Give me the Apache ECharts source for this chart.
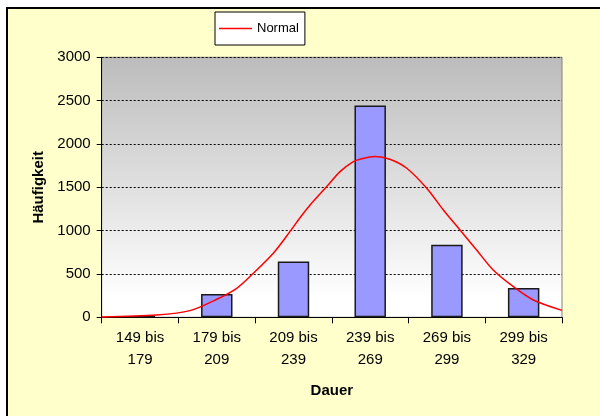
<!DOCTYPE html>
<html><head><meta charset="utf-8">
<script src="https://cdn.jsdelivr.net/npm/echarts@6/dist/echarts.min.js"></script>
<style>
html,body{margin:0;padding:0;background:#fff;}
#wrap{position:relative;width:600px;height:416px;overflow:hidden;background:#fff;}
#frame{position:absolute;left:6px;top:7px;width:600px;height:420px;background:#FFFFCC;border-left:2px solid #000;border-top:2px solid #000;}
#chart{position:absolute;left:0;top:0;width:600px;height:416px;}
</style></head>
<body><div id="wrap"><div id="frame"></div><div id="chart"></div></div>
<script>
const categories = ['149 bis\n179','179 bis\n209','209 bis\n239','239 bis\n269','269 bis\n299','299 bis\n329'];
const counts = [15, 270, 643, 2445, 838, 338];
const yTicks = [0, 500, 1000, 1500, 2000, 2500, 3000];
// normal curve points: [Dauer, Häufigkeit]
const normalX = [149, 170.5, 183.5, 194.0, 201.8, 208.3, 216.1, 222.6, 226.4, 230.5, 237.0, 242.2, 247.4, 250.0, 255.9, 261.7, 268.3, 276.1, 282.6, 289.1, 295.6, 302.1, 310.0, 317.8, 329];
const normalY = [3, 27, 77, 208, 335, 508, 739, 988, 1143, 1296, 1508, 1681, 1796, 1824, 1855, 1824, 1720, 1489, 1238, 1008, 777, 546, 353, 200, 80];

const font = 'Liberation Sans, Arial, sans-serif';
const chart = echarts.init(document.getElementById('chart'), null, {renderer:'canvas'});
chart.setOption({
  backgroundColor: 'transparent',
  animation: false,
  legend: {
    data: [{name:'Normal', icon:'rect'}],
    left: 215, top: 12,
    backgroundColor: '#fff', borderColor: '#000', borderWidth: 1,
    padding: [10, 6, 10, 4],
    itemWidth: 33, itemHeight: 1.5, itemGap: 4,
    textStyle: {fontFamily: font, fontSize: 13, color: '#000'}
  },
  grid: {
    left: 101.7, right: 38, top: 57.3, bottom: 98.7,
    show: true, borderColor: '#808080', borderWidth: 1,
    backgroundColor: new echarts.graphic.LinearGradient(0,0,0,1,[
      {offset:0, color:'#bcbcbc'},{offset:0.93, color:'#ffffff'},{offset:1, color:'#ffffff'}])
  },
  xAxis: [{
    type: 'category', data: categories,
    name: 'Dauer', nameLocation: 'middle', nameGap: 66,
    nameTextStyle: {fontFamily: font, fontSize: 15, fontWeight: 'bold', color: '#000'},
    axisLine: {lineStyle: {color: '#000', width: 1}},
    axisTick: {show: true, length: 6, inside: false, lineStyle: {color: '#000'}},
    axisLabel: {fontFamily: font, fontSize: 15, color: '#000', lineHeight: 21.5, margin: 10},
    splitLine: {show: false}
  },{
    type: 'value', min: 149, max: 329, show: false, position: 'bottom'
  }],
  yAxis: {
    type: 'value', min: 0, max: 3000, interval: 500,
    name: 'Häufigkeit', nameLocation: 'middle', nameGap: 55, nameRotate: 90,
    nameTextStyle: {fontFamily: font, fontSize: 15, fontWeight: 'bold', color: '#000'},
    axisLine: {show: true, lineStyle: {color: '#000', width: 1}},
    axisTick: {show: true, length: 5, lineStyle: {color: '#000'}},
    axisLabel: {fontFamily: font, fontSize: 15, color: '#000', margin: 11,
      formatter: v => yTicks.includes(v) ? String(v) : ''},
    splitLine: {show: true, lineStyle: {color: '#000', type: [2,2], width: 1}}
  },
  series: [{
    type: 'bar', data: counts, barWidth: '41%', xAxisIndex: 0,
    itemStyle: {color: '#9999FF', borderColor: '#1a1a1a', borderWidth: 1.5},
    silent: true
  },{
    name: 'Normal', type: 'line', xAxisIndex: 1, smooth: 0.3,
    data: normalX.map((x,i)=>[x, normalY[i]]),
    symbol: 'none', lineStyle: {color: '#FF0000', width: 1.5}, itemStyle: {color: '#FF0000'},
    z: 5
  }]
});
</script></body></html>
